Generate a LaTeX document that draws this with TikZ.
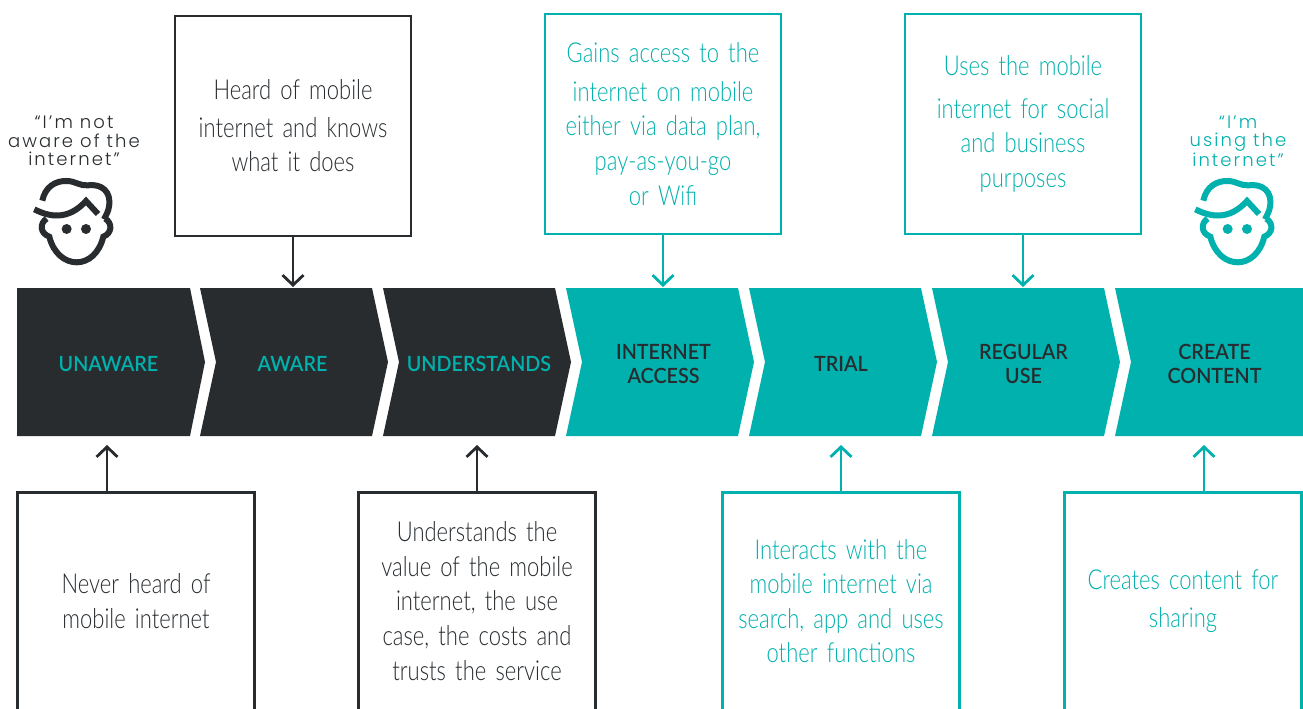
\documentclass[tikz,border=0pt]{standalone}
\usepackage{fontspec}
\setmainfont{Lato}[UprightFont=* Light,BoldFont=* Bold]
\newfontfamily\boxfont{Lato}[UprightFont=* Light,FakeStretch=0.8,WordSpace=0.62]
\newfontfamily\chevfont{Lato}[UprightFont=* Semibold,FakeStretch=0.94]
\newfontfamily\quotefont{Poppins}[UprightFont=* Light,LetterSpace=11.5]
\definecolor{ink}{HTML}{282C2F}
\definecolor{teal}{HTML}{00B1AD}
\tikzset{
  x=1pt,y=-1pt,
  chev/.style={fill=#1,draw=none},
  chevlabel/.style={font=\chevfont\fontsize{21}{24}\selectfont,align=center,text=#1,inner sep=0pt},
  infobox/.style={draw=#1,line width=2.8pt,minimum width=236pt,minimum height=220pt,inner sep=0pt,text=#1,align=center,text width=230pt,font=\boxfont\fontsize{27.5}{34.6}\selectfont},
  openbox/.style={minimum width=236pt,minimum height=216pt,inner sep=0pt,text=#1,align=center,text width=230pt,font=\boxfont\fontsize{27.5}{34.6}\selectfont},
  openedge/.style={draw=#1,line width=2.8pt,line join=miter},
  conn/.style={draw=#1,line width=2.8pt,-{Straight Barb[length=10pt,width=21pt,line width=2.8pt]}},
  quotetext/.style={font=\quotefont\fontsize{18}{18.3}\selectfont,align=center,text=#1,inner sep=0pt},
  face/.pic={
    \begin{scope}[x=0.3333pt,y=-0.3333pt,line width=6pt,line cap=butt,line join=miter]
      \draw[draw=#1] (127,302) .. controls (135,262) and (165,242) .. (200,243)
        .. controls (225,243) and (240,258) .. (262,256)
        .. controls (305,250) and (335,275) .. (327,320)
        .. controls (325,335) and (318,345) .. (312,358);
      \draw[draw=#1] (103,328) .. controls (165,360) and (215,350) .. (258,303) -- (294,342);
      \draw[draw=#1] (140,356) .. controls (118,370) and (120,400) .. (148,410)
        .. controls (160,460) and (195,487) .. (230,487)
        .. controls (265,487) and (298,460) .. (310,410)
        .. controls (336,400) and (338,370) .. (316,356);
      \fill[#1] (200,387) circle (15) (258,387) circle (15);
    \end{scope}
  }
}
\usetikzlibrary{arrows.meta}
\begin{document}
\begin{tikzpicture}
\useasboundingbox (0,0) rectangle (1303,709);
\clip (0,0) rectangle (1303,709);
\fill[white] (0,0) rectangle (1303,709);
% chevrons
\fill[chev=ink] (17,288) -- (190,288) -- (205,362) -- (190,436) -- (17,436) -- cycle;
\fill[chev=ink] (200,288) -- (372,288) -- (388,362) -- (372,436) -- (200,436) -- (216,362) -- cycle;
\fill[chev=ink] (383,288) -- (555,288) -- (571,362) -- (555,436) -- (383,436) -- (399,362) -- cycle;
\fill[chev=teal] (566,288) -- (738,288) -- (754,362) -- (738,436) -- (566,436) -- (582,362) -- cycle;
\fill[chev=teal] (749,288) -- (921,288) -- (937,362) -- (921,436) -- (749,436) -- (765,362) -- cycle;
\fill[chev=teal] (932,288) -- (1104,288) -- (1120,362) -- (1104,436) -- (932,436) -- (948,362) -- cycle;
\fill[chev=teal] (1115,288) -- (1303,288) -- (1303,436) -- (1115,436) -- (1131,362) -- cycle;
\node[chevlabel=teal] (lunaware) at (108.5,364) {UNAWARE};
\node[chevlabel=teal] (laware) at (292.5,364) {AWARE};
\node[chevlabel=teal] (lunder) at (479,364) {UNDERSTANDS};
\node[chevlabel=ink] (laccess) at (663.5,364) {INTERNET\\ACCESS};
\node[chevlabel=ink] (ltrial) at (841,364) {TRIAL};
\node[chevlabel=ink] (lregular) at (1023.5,364) {REGULAR\\USE};
\node[chevlabel=ink] (lcreate) at (1214.5,364) {CREATE\\CONTENT};
% top boxes
\node[infobox=ink] (heard) at (293,126) {\vspace*{3pt}Heard of mobile\\internet and knows\\what it does};
\node[infobox=teal] (gains) at (663,124) {\vspace*{4pt}Gains access to the\\internet on mobile\\either via data plan,\\pay-as-you-go\\or Wifi};
\node[infobox=teal] (uses) at (1023,124) {\vspace*{8pt}Uses the mobile\\internet for social\\and business\\purposes};
% bottom boxes (run off the page)
\node[openbox=ink] (never) at (136,601) {Never heard of\\mobile internet};
\node[openbox=ink] (underst) at (477,601) {Understands the\\value of the mobile\\internet, the use\\case, the costs and\\trusts the service};
\node[openbox=teal] (interacts) at (841,601) {Interacts with the\\mobile internet via\\search, app and uses\\other functions};
\node[openbox=teal] (creates) at (1183,601) {\vspace*{4pt}Creates content for\\sharing};
\draw[openedge=ink] (never.south west) -- (never.north west) -- (never.north east) -- (never.south east);
\draw[openedge=ink] (underst.south west) -- (underst.north west) -- (underst.north east) -- (underst.south east);
\draw[openedge=teal] (interacts.south west) -- (interacts.north west) -- (interacts.north east) -- (interacts.south east);
\draw[openedge=teal] (creates.south west) -- (creates.north west) -- (creates.north east) -- (creates.south east);
% connector ends
\coordinate (tawareTip) at (293,287);
\coordinate (taccessTip) at (663,287);
\coordinate (tregularTip) at (1023,287);
\coordinate (bunawareTip) at (107,445);
\coordinate (bunawareFoot) at (107,493);
\coordinate (bunderTip) at (477,445);
\coordinate (btrialTip) at (841,445);
\coordinate (bcreateTip) at (1204,445);
\coordinate (bcreateFoot) at (1204,493);
\draw[conn=ink] (heard.south) -- (tawareTip);
\draw[conn=teal] (gains.south) -- (taccessTip);
\draw[conn=teal] (uses.south) -- (tregularTip);
\draw[conn=ink] (bunawareFoot) -- (bunawareTip);
\draw[conn=ink] (underst.north) -- (bunderTip);
\draw[conn=teal] (interacts.north) -- (btrialTip);
\draw[conn=teal] (bcreateFoot) -- (bcreateTip);
% quotes and faces
\node[quotetext=ink] (qleft) at (74,141) {“I’m not\\aware of the\\internet”};
\node[quotetext=teal] (qright) at (1238,141) {“I’m\\using the\\internet”};
\pic at (0,100) {face=ink};
\pic at (1161,100) {face=teal};
\end{tikzpicture}
\end{document}
